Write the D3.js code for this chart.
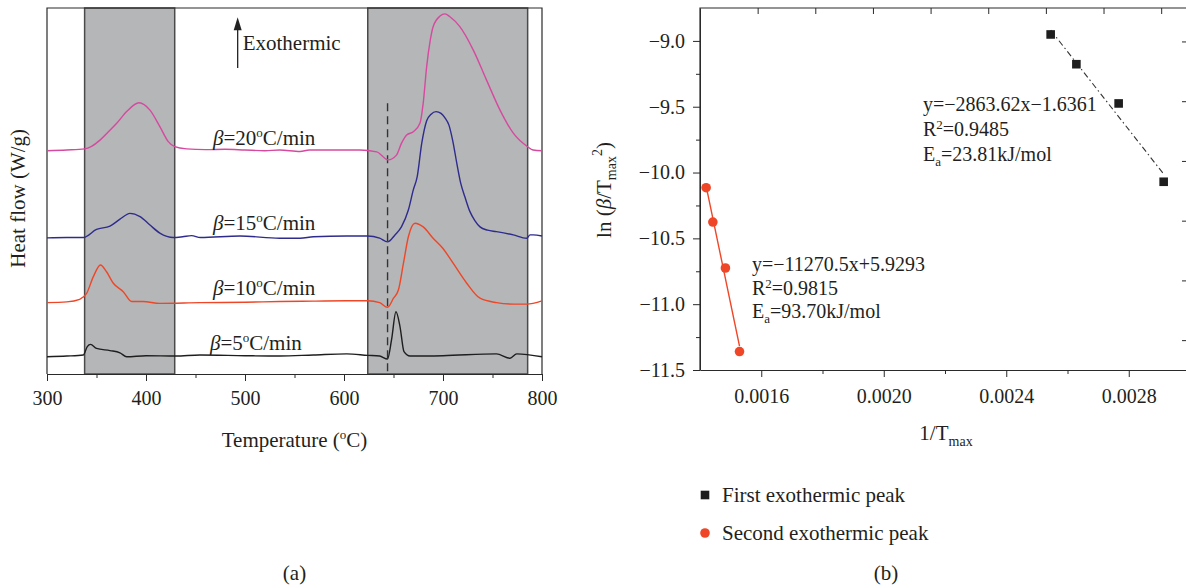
<!DOCTYPE html>
<html>
<head>
<meta charset="utf-8">
<script src="https://cdn.jsdelivr.net/npm/d3@7"></script>
<style>
  body { margin: 0; background: #fff; }
  text { font-family: "Liberation Serif", "DejaVu Serif", serif; fill: #231f20; }
</style>
</head>
<body>
<svg id="chart" width="1186" height="588"></svg>
<script>
// ---- data, panel (a): DSC curves, [temperature, heat flow (offset, a.u.)]
const curve20 = [[300,6.10],[320,6.12],[338,6.15],[345,6.22],[353.5,6.39],[362,6.62],[370.4,6.85],[380.5,7.17],[392.9,7.41],[404,7.21],[414,6.76],[422.5,6.35],[429,6.21],[441,6.15],[460,6.13],[480,6.14],[500,6.12],[520,6.10],[535,6.12],[555.6,6.08],[565,6.12],[600,6.12],[616,6.12],[633,6.07],[644.5,5.85],[653,5.98],[658,6.30],[663.3,6.53],[670,6.62],[676.8,6.86],[680,7.40],[683.5,8.40],[687,9.10],[690,9.49],[697,9.78],[702,9.84],[707,9.76],[717,9.49],[730.6,8.85],[744,8.03],[757.6,7.21],[771,6.58],[785.5,6.21],[791,6.12],[800,6.10]];
const curve15 = [[300,3.72],[320,3.73],[336.7,3.73],[350,3.95],[363.6,4.04],[373.7,4.23],[383.8,4.39],[394,4.30],[404,4.07],[414,3.85],[427.6,3.73],[437,3.75],[446,3.78],[455,3.73],[495,3.77],[535,3.71],[555.6,3.71],[569,3.75],[602.7,3.77],[624,3.77],[636,3.71],[644,3.61],[651.5,3.80],[658,4.02],[665,4.48],[670,5.03],[674,5.40],[678.5,6.30],[683.5,6.92],[688,7.10],[693,7.17],[698,7.12],[702,7.00],[706,6.80],[710,6.35],[714,5.75],[718,5.20],[722,4.85],[727,4.45],[732,4.20],[737.4,4.02],[745,3.93],[754,3.89],[771,3.80],[784.5,3.71],[788,3.80],[791,3.80],[800,3.77]];
const curve10 = [[300,1.95],[320,1.97],[333,2.04],[340,2.20],[346.8,2.66],[354,2.98],[360,2.80],[367,2.48],[377,2.25],[385.5,1.98],[397,1.98],[414,1.93],[454.5,1.95],[500,1.96],[535,1.98],[569,1.99],[602.7,2.00],[624,2.00],[636,1.95],[644,1.82],[650,2.07],[655,2.30],[660,3.02],[665,3.75],[671.7,4.12],[680,4.02],[690,3.71],[700,3.43],[710.4,3.02],[724,2.48],[737.4,2.07],[754,1.95],[771,1.91],[784.5,1.91],[800,2.00]];
const curve5 = [[300,0.47],[320,0.49],[336.7,0.52],[340.7,0.75],[344,0.81],[350,0.70],[363.6,0.64],[373.7,0.58],[380.5,0.47],[400,0.50],[430,0.49],[454.5,0.52],[500,0.50],[535,0.49],[569,0.52],[602.7,0.55],[624,0.51],[636,0.49],[644,0.41],[648,0.93],[652.5,1.70],[656.6,1.29],[660.6,0.61],[666.7,0.49],[700,0.50],[754,0.55],[767.7,0.43],[774.5,0.55],[800,0.47]];
const rates = [20, 15, 10, 5];
const bands = [[338, 429], [624, 785.5]];
const dashTemp = 644;
const tempTicks = [300, 400, 500, 600, 700, 800];
const tempMinor = [350, 450, 550, 650, 750];

// ---- data, panel (b): Kissinger plot
const firstX = [0.002545, 0.002629, 0.002767, 0.002914];
const firstY = [-8.951, -9.177, -9.475, -10.07];
const secondX = [0.001420, 0.001442, 0.001483, 0.001529];
const secondY = [-10.115, -10.376, -10.725, -11.36];
const firstFit = ["y=\u22122863.62x\u22121.6361", "0.9485", "23.81kJ/mol"];
const secondFit = ["y=\u221211270.5x+5.9293", "0.9815", "93.70kJ/mol"];
const invTicks = [0.0016, 0.0020, 0.0024, 0.0028];
const invMinor = [0.0018, 0.0022, 0.0026];
const lnTicks = [-11.5, -11.0, -10.5, -10.0, -9.5, -9.0];
const lnMinor = [-11.25, -10.75, -10.25, -9.75, -9.25];
const legendNames = ["First exothermic peak", "Second exothermic peak"];

const colors = { 20: "#d6499f", 15: "#2e2b8d", 10: "#ee4626", 5: "#1e1e1e" };
const curves = { 20: curve20, 15: curve15, 10: curve10, 5: curve5 };
const axisColor = "#2a2a2a";
const fontSize = 21;
const tickFont = 20;

const svg = d3.select("#chart");

function styleAxis(g) {
    g.attr("font-family", "Liberation Serif, serif").attr("font-size", tickFont);
    g.selectAll("line").attr("stroke", axisColor);
    g.selectAll("path").attr("stroke", axisColor);
    g.selectAll("text").attr("fill", "#231f20");
}

// ================= panel (a) =================
const xT = d3.scaleLinear().domain([300, 800]).range([47, 542]);
const yH = d3.scaleLinear().domain([0, 10]).range([374, 8]);
const left = svg.append("g");

// grey bands
left.selectAll("rect.band")
    .data(bands)
    .join("rect")
    .attr("class", "band")
    .attr("x", d => xT(d[0]))
    .attr("y", yH(10))
    .attr("width", d => xT(d[1]) - xT(d[0]))
    .attr("height", yH(0) - yH(10))
    .attr("fill", "#b5b6b8")
    .attr("stroke", "#4a4a4a")
    .attr("stroke-width", 1.5);

// frame (top + right + left)
left.append("path")
    .attr("d", `M${xT(300)},${yH(0)}V${yH(10)}H${xT(800)}V${yH(0)}`)
    .attr("fill", "none")
    .attr("stroke", axisColor)
    .attr("stroke-width", 1.2);

// bottom axis
left.append("g")
    .attr("transform", `translate(0,${yH(0)})`)
    .call(d3.axisBottom(xT).tickValues(tempTicks).tickSize(7).tickSizeOuter(0).tickPadding(10))
    .call(styleAxis);
left.append("g")
    .attr("transform", `translate(0,${yH(0)})`)
    .call(d3.axisBottom(xT).tickValues(tempMinor).tickSize(4).tickFormat(""))
    .call(styleAxis)
    .call(g => g.select(".domain").remove());

// dashed marker line
left.append("line")
    .attr("x1", xT(dashTemp)).attr("x2", xT(dashTemp))
    .attr("y1", yH(7.4)).attr("y2", yH(0))
    .attr("stroke", "#333")
    .attr("stroke-width", 1.4)
    .attr("stroke-dasharray", "8,5");

// curves
const heatLine = d3.line()
    .x(d => xT(d[0]))
    .y(d => yH(d[1]))
    .curve(d3.curveMonotoneX);

left.selectAll("path.curve")
    .data(rates)
    .join("path")
    .attr("class", "curve")
    .attr("d", r => heatLine(curves[r]))
    .attr("fill", "none")
    .attr("stroke", r => colors[r])
    .attr("stroke-width", 1.4);

// rate labels
const labelPos = { 20: [467.7, 6.26], 15: [467.7, 3.93], 10: [467.7, 2.16], 5: [464.6, 0.66] };
rates.forEach(r => {
    const t = left.append("text")
        .attr("x", xT(labelPos[r][0]))
        .attr("y", yH(labelPos[r][1]))
        .attr("font-size", fontSize);
    t.append("tspan").attr("font-style", "italic").text("\u03b2");
    t.append("tspan").text("=" + r);
    t.append("tspan").attr("dy", -8).attr("font-size", 13).text("o");
    t.append("tspan").attr("dy", 8).text("C/min");
});

// exothermic arrow
const ax = xT(492.6);
left.append("line")
    .attr("x1", ax).attr("x2", ax)
    .attr("y1", yH(8.36)).attr("y2", yH(9.45))
    .attr("stroke", "#222").attr("stroke-width", 1.3);
left.append("path")
    .attr("d", `M${ax},${yH(9.75)}L${ax - 4},${yH(9.75) + 13}L${ax + 4},${yH(9.75) + 13}Z`)
    .attr("fill", "#222");
left.append("text")
    .attr("x", ax + 5)
    .attr("y", yH(8.85))
    .attr("font-size", fontSize)
    .text("Exothermic");

// axis titles
const tTitle = left.append("text")
    .attr("x", xT(550)).attr("y", 447)
    .attr("text-anchor", "middle")
    .attr("font-size", fontSize);
tTitle.append("tspan").text("Temperature (");
tTitle.append("tspan").attr("dy", -8).attr("font-size", 13).text("o");
tTitle.append("tspan").attr("dy", 8).text("C)");

left.append("text")
    .attr("transform", `translate(25,${yH(4.8)}) rotate(-90)`)
    .attr("text-anchor", "middle")
    .attr("font-size", fontSize)
    .text("Heat flow (W/g)");

left.append("text")
    .attr("x", xT(550)).attr("y", 580)
    .attr("text-anchor", "middle")
    .attr("font-size", fontSize)
    .text("(a)");

// ================= panel (b) =================
const xI = d3.scaleLinear().domain([0.0014, 0.0030]).range([700, 1190]);
const yL = d3.scaleLinear().domain([-11.5, -8.75]).range([370, 8]);
// the top and right frame ticks are not aligned with the data axes
const topTicks = d3.scaleLinear().domain([0, 8.5]).range([700, 1190]);
const rightTicks = d3.scaleLinear().domain([-0.56, 5.5]).range([8, 370]);
const right = svg.append("g");

right.append("path")
    .attr("d", `M${xI(0.0014)},${yL(-11.5)}V${yL(-8.75)}H${xI(0.0030)}V${yL(-11.5)}`)
    .attr("fill", "none")
    .attr("stroke", axisColor)
    .attr("stroke-width", 1.2);

right.append("g")
    .attr("transform", `translate(0,${yL(-11.5)})`)
    .call(d3.axisBottom(xI).tickValues(invTicks).tickFormat(d3.format(".4f")).tickSize(7).tickSizeOuter(0).tickPadding(12))
    .call(styleAxis);
right.append("g")
    .attr("transform", `translate(0,${yL(-11.5)})`)
    .call(d3.axisBottom(xI).tickValues(invMinor).tickSize(4).tickFormat(""))
    .call(styleAxis)
    .call(g => g.select(".domain").remove());

right.append("g")
    .attr("transform", `translate(${xI(0.0014)},0)`)
    .call(d3.axisLeft(yL).tickValues(lnTicks).tickFormat(d3.format(".1f")).tickSize(7).tickSizeOuter(0).tickPadding(8))
    .call(styleAxis);
right.append("g")
    .attr("transform", `translate(${xI(0.0014)},0)`)
    .call(d3.axisLeft(yL).tickValues(lnMinor).tickSize(4).tickFormat(""))
    .call(styleAxis)
    .call(g => g.select(".domain").remove());

// inward ticks on the top and right frame
right.append("g")
    .attr("transform", `translate(0,${yL(-8.75)})`)
    .call(d3.axisBottom(topTicks).tickValues(d3.range(1, 9)).tickSize(6).tickFormat(""))
    .call(styleAxis)
    .call(g => g.select(".domain").remove());
right.append("g")
    .attr("transform", `translate(${xI(0.0030)},0)`)
    .call(d3.axisLeft(rightTicks).tickValues(d3.range(0, 6)).tickSize(8).tickFormat(""))
    .call(styleAxis)
    .call(g => g.select(".domain").remove());

// least-squares fit lines, drawn across the data range
function fit(xs, ys) {
    const mx = d3.mean(xs), my = d3.mean(ys);
    const sxy = d3.sum(xs, (x, i) => (x - mx) * (ys[i] - my));
    const sxx = d3.sum(xs, x => (x - mx) * (x - mx));
    const k = sxy / sxx;
    const x0 = d3.min(xs), x1 = d3.max(xs);
    return [[x0, my + k * (x0 - mx)], [x1, my + k * (x1 - mx)]];
}
const fitLine = d3.line().x(d => xI(d[0])).y(d => yL(d[1]));

right.append("path")
    .attr("d", fitLine(fit(firstX, firstY)))
    .attr("stroke", "#333")
    .attr("stroke-width", 1.1)
    .attr("stroke-dasharray", "6,3,1.5,3");
right.append("path")
    .attr("d", fitLine(fit(secondX, secondY)))
    .attr("stroke", colors[10])
    .attr("stroke-width", 1.4);

// markers
right.selectAll("rect.first")
    .data(firstX)
    .join("rect")
    .attr("class", "first")
    .attr("x", d => xI(d) - 4.3)
    .attr("y", (d, i) => yL(firstY[i]) - 4.3)
    .attr("width", 8.6).attr("height", 8.6)
    .attr("fill", "#1e1e1e");
right.selectAll("circle.second")
    .data(secondX)
    .join("circle")
    .attr("class", "second")
    .attr("cx", d => xI(d))
    .attr("cy", (d, i) => yL(secondY[i]))
    .attr("r", 4.8)
    .attr("fill", colors[10]);

// fit annotations
function annotate(lines, x, y0, step) {
    right.append("text").attr("x", x).attr("y", y0).attr("font-size", tickFont).text(lines[0]);
    const r2 = right.append("text").attr("x", x).attr("y", y0 + step).attr("font-size", tickFont);
    r2.append("tspan").text("R");
    r2.append("tspan").attr("dy", -7).attr("font-size", 13).text("2");
    r2.append("tspan").attr("dy", 7).text("=" + lines[1]);
    const ea = right.append("text").attr("x", x).attr("y", y0 + 2 * step).attr("font-size", tickFont);
    ea.append("tspan").text("E");
    ea.append("tspan").attr("dy", 5).attr("font-size", 13).text("a");
    ea.append("tspan").attr("dy", -5).text("=" + lines[2]);
}
annotate(firstFit, 923, 111, 25);
annotate(secondFit, 752, 271, 23.5);

// axis titles
const yTitle = right.append("text")
    .attr("transform", `translate(611,190) rotate(-90)`)
    .attr("text-anchor", "middle")
    .attr("font-size", fontSize);
yTitle.append("tspan").text("ln (");
yTitle.append("tspan").attr("font-style", "italic").text("\u03b2");
yTitle.append("tspan").text("/T");
yTitle.append("tspan").attr("dy", 5).attr("font-size", 14).text("max");
yTitle.append("tspan").attr("dy", -14).attr("font-size", 14).text("2");
yTitle.append("tspan").attr("dy", 9).text(")");

const xTitle = right.append("text")
    .attr("x", 946).attr("y", 440)
    .attr("text-anchor", "middle")
    .attr("font-size", fontSize);
xTitle.append("tspan").text("1/T");
xTitle.append("tspan").attr("dy", 6).attr("font-size", 14).text("max");

// legend
const legend = right.append("g").attr("transform", "translate(705,0)");
legend.append("rect").attr("x", -4.3).attr("y", 495 - 4.3).attr("width", 8.6).attr("height", 8.6).attr("fill", "#1e1e1e");
legend.append("circle").attr("cx", 0).attr("cy", 533).attr("r", 4.8).attr("fill", colors[10]);
legend.selectAll("text")
    .data(legendNames)
    .join("text")
    .attr("x", 17)
    .attr("y", (d, i) => 502 + i * 38)
    .attr("font-size", fontSize)
    .text(d => d);

right.append("text")
    .attr("x", 886).attr("y", 580)
    .attr("text-anchor", "middle")
    .attr("font-size", fontSize)
    .text("(b)");
</script>
</body>
</html>
